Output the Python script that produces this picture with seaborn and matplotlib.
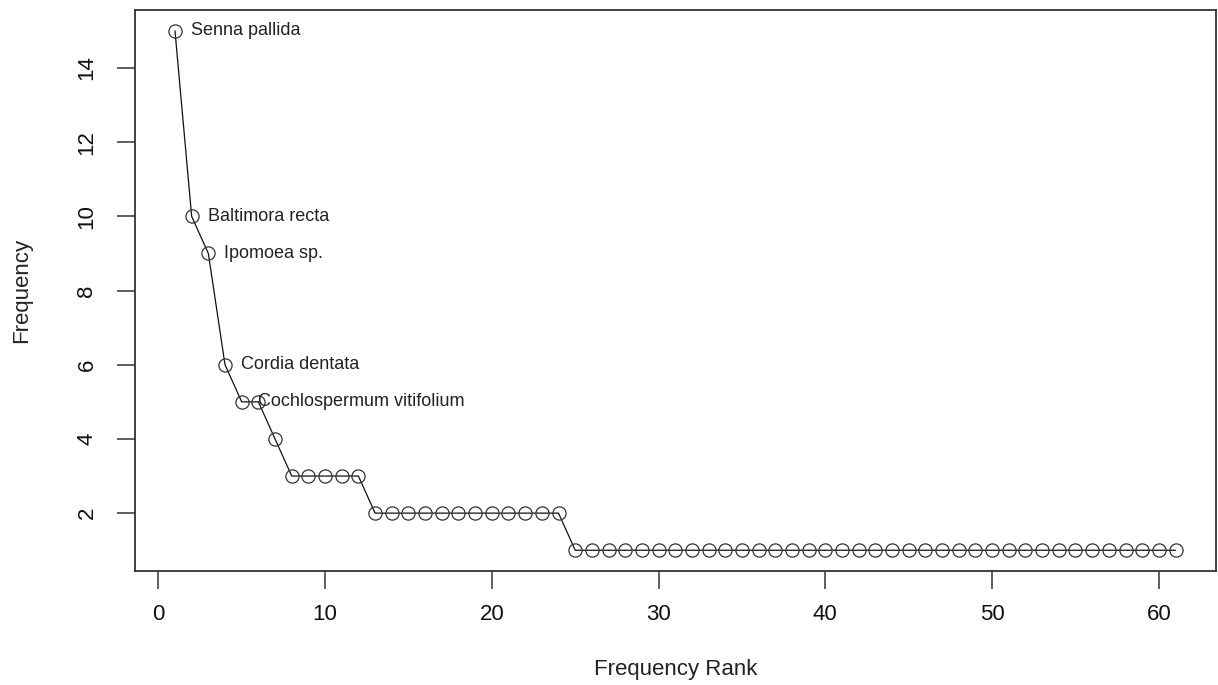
import matplotlib
matplotlib.use("Agg")
import matplotlib.pyplot as plt
import seaborn as sns
import pandas as pd

# Data
rank = list(range(1, 62))
freq = ([15, 10, 9, 6, 5, 5, 4]
        + [3] * 5
        + [2] * 12
        + [1] * 37)
label_ranks = [1, 2, 3, 4, 5]
label_names = ["Senna pallida", "Baltimora recta", "Ipomoea sp.",
               "Cordia dentata", "Cochlospermum vitifolium"]
xticks = [0, 10, 20, 30, 40, 50, 60]
yticks = [2, 4, 6, 8, 10, 12, 14]

df = pd.DataFrame({"rank": rank, "freq": freq})

sns.set_style("white")
plt.rcParams["font.family"] = ["Liberation Sans", "DejaVu Sans"]

fig = plt.figure(figsize=(12.18, 6.85), dpi=100)
ax = fig.add_axes([0.1108, 0.1664, 0.998 - 0.1108, 0.9854 - 0.1664])

sns.lineplot(data=df, x="rank", y="freq", ax=ax, color="#111111",
             linewidth=0.9, marker="o", markersize=9.5,
             markerfacecolor="none", markeredgecolor="#333333",
             markeredgewidth=0.9)

for r, name in zip(label_ranks, label_names):
    ax.annotate(name, xy=(r, freq[r - 1]), xytext=(11.5, 0),
                textcoords="offset points", ha="left", va="center",
                fontsize=13, color="#222222")

ax.set_xlim(-1.4, 63.4)
ax.set_ylim(0.44, 15.56)
ax.set_xticks(xticks)
ax.set_yticks(yticks)

for s in ax.spines.values():
    s.set_color("#333333")
    s.set_linewidth(1.3)

ax.tick_params(axis="both", direction="out", length=13, width=1.1,
               color="#333333", labelsize=16, labelcolor="#111111",
               bottom=True, left=True)
ax.tick_params(axis="x", pad=11)
ax.tick_params(axis="y", pad=14)
for t in ax.get_yticklabels():
    t.set_rotation(90)
    t.set_va("center")

ax.set_xlabel("Frequency Rank", fontsize=16, labelpad=24, color="#222222")
ax.set_ylabel("Frequency", fontsize=16, labelpad=32, color="#222222")

fig.savefig("out.png", dpi=100)
